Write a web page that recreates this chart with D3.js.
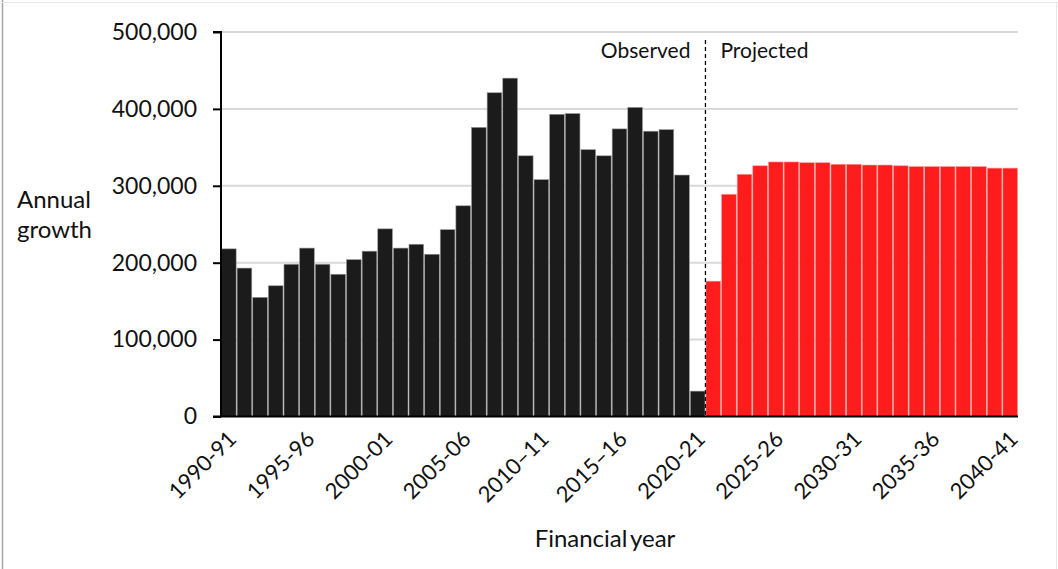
<!DOCTYPE html>
<html>
<head>
<meta charset="utf-8">
<script src="https://cdn.jsdelivr.net/npm/d3@7"></script>
<style>
  html, body { margin: 0; padding: 0; background: #fff; }
  svg { display: block; }
  text { font-family: Lato, "Open Sans", sans-serif; fill: #111; }
</style>
</head>
<body>
<svg id="chart" width="1058" height="569"></svg>
<script>
// ---- Data ----
const years = [
  "1990-91","1991-92","1992-93","1993-94","1994-95","1995-96","1996-97","1997-98","1998-99","1999-00",
  "2000-01","2001-02","2002-03","2003-04","2004-05","2005-06","2006-07","2007-08","2008-09","2009-10",
  "2010–11","2011-12","2012-13","2013-14","2014-15","2015–16","2016-17","2017-18","2018-19","2019-20",
  "2020-21","2021-22","2022-23","2023-24","2024-25","2025-26","2026-27","2027-28","2028-29","2029-30",
  "2030-31","2031-32","2032-33","2033-34","2034-35","2035-36","2036-37","2037-38","2038-39","2039-40",
  "2040-41"
];
const observed = [
  218000,193000,155000,170000,198000,219000,198000,185000,204000,215000,
  244000,219000,224000,211000,243000,274000,376000,421000,440000,339000,
  308000,393000,394000,347000,339000,374000,402000,371000,373000,314000,
  33000
];
const projected = [
  176000,289000,315000,326000,331000,331000,330000,330000,328000,328000,
  327000,327000,326000,325000,325000,325000,325000,325000,323000,323000
];
const tickLabels = ["1990-91","1995-96","2000-01","2005-06","2010–11","2015–16","2020-21","2025-26","2030-31","2035-36","2040-41"];
const yTicks = [0,100000,200000,300000,400000,500000];

const bars = years.map((y, i) => ({
  year: y,
  value: i < observed.length ? observed[i] : projected[i - observed.length],
  type: i < observed.length ? "obs" : "proj"
}));

// ---- Layout ----
const svg = d3.select("#chart");
const L = 221, R = 1018, T = 32, B = 416.5;

// outer frame
svg.append("line").attr("x1",2.5).attr("x2",2.5).attr("y1",0).attr("y2",569).attr("stroke","#a6a6a6").attr("stroke-width",1.5);
svg.append("line").attr("x1",2).attr("x2",1058).attr("y1",2.5).attr("y2",2.5).attr("stroke","#e6e6e6").attr("stroke-width",1);
svg.append("line").attr("x1",1056.5).attr("x2",1056.5).attr("y1",2).attr("y2",569).attr("stroke","#e6e6e6").attr("stroke-width",1);

const x = d3.scaleBand().domain(years).range([L, R]).paddingInner(0.06).paddingOuter(0.03);
const y = d3.scaleLinear().domain([0, 500000]).range([B, T]);

// gridlines
svg.append("g").selectAll("line").data(yTicks.filter(d => d > 0)).join("line")
  .attr("x1", L).attr("x2", R)
  .attr("y1", d => y(d)).attr("y2", d => y(d))
  .attr("stroke", "#d9d9d9").attr("stroke-width", 2);

// bars
svg.append("g").selectAll("rect").data(bars).join("rect")
  .attr("x", d => x(d.year))
  .attr("width", x.bandwidth())
  .attr("y", d => y(d.value))
  .attr("height", d => B - y(d.value))
  .attr("fill", d => d.type === "obs" ? "#1b1b1b" : "#ff1c1c")
  .attr("stroke", d => d.type === "obs" ? "#9a9a9a" : "#ff9a9a")
  .attr("stroke-width", 0.6);

// y axis
const yAxis = d3.axisLeft(y).tickValues(yTicks).tickSize(8).tickPadding(16)
  .tickFormat(d3.format(","));
const gy = svg.append("g").attr("transform", `translate(${L},0)`).call(yAxis);
gy.select(".domain").attr("stroke", "#000").attr("stroke-width", 2).attr("d", `M-8,${T}H0V${B}`);
gy.selectAll(".tick line").attr("stroke", "#000").attr("stroke-width", 2);
gy.selectAll(".tick text").attr("font-size", 23).attr("font-family", "Lato").attr("fill", "#111");

// x axis baseline
svg.append("line").attr("x1", L - 8).attr("x2", R).attr("y1", B).attr("y2", B)
  .attr("stroke", "#000").attr("stroke-width", 2);

// x tick labels
const xAxis = d3.axisBottom(x).tickValues(tickLabels).tickSize(0).tickPadding(0);
const gx = svg.append("g").attr("transform", `translate(0,${B})`).call(xAxis);
gx.select(".domain").remove();
gx.selectAll(".tick text")
  .attr("font-size", 22).attr("font-family", "Lato").attr("fill", "#111")
  .attr("text-anchor", "end")
  .attr("dy", null)
  .attr("transform", "translate(9,24) rotate(-45)");

// dashed divider
const divX = x(years[observed.length]) - x.step() * x.paddingInner() / 2;
svg.append("line").attr("x1", divX).attr("x2", divX).attr("y1", 40).attr("y2", B)
  .attr("stroke", "#000").attr("stroke-width", 1.3).attr("stroke-dasharray", "4,3");

svg.append("text").attr("x", divX - 15).attr("y", 58).attr("text-anchor", "end")
  .attr("font-size", 21).text("Observed");
svg.append("text").attr("x", divX + 15).attr("y", 58).attr("text-anchor", "start")
  .attr("font-size", 21).text("Projected");

// axis titles
const yt = svg.append("text").attr("font-size", 24);
yt.append("tspan").attr("x", 17).attr("y", 208).text("Annual");
yt.append("tspan").attr("x", 17).attr("y", 238).text("growth");

svg.append("text").attr("x", 605).attr("y", 547).attr("text-anchor", "middle")
  .attr("font-size", 24).attr("word-spacing", -3).text("Financial year");
</script>
</body>
</html>
